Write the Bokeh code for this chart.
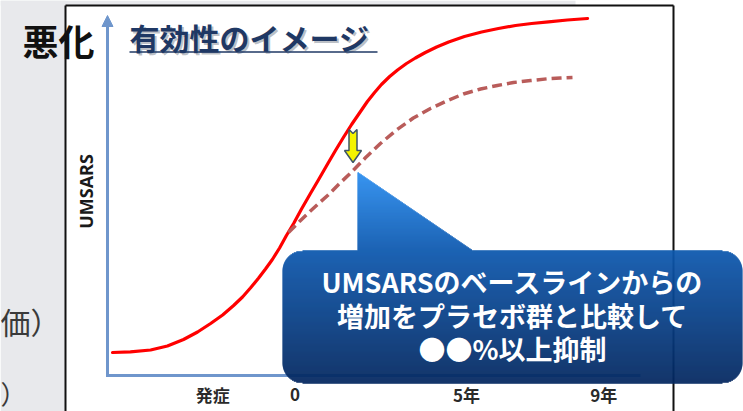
import numpy as np
from bokeh.plotting import figure
from bokeh.models import Range1d
from bokeh.embed import file_html
from bokeh.resources import INLINE
from bokeh.core.properties import value

# ---------------- data ----------------
tick_years = [-2.4, 0, 5, 9]
tick_labels = ["発症", "0", "5年", "9年"]

placebo_t = [-5.32, -4.80, -4.21, -3.72, -3.25, -2.84, -2.46, -2.11, -1.79, -1.53,
             -1.30, -1.06, -0.86, -0.66, -0.45, -0.25, -0.04, 0.19, 0.45, 0.69,
             0.95, 1.18, 1.41, 1.65, 1.91, 2.11, 2.32, 2.52, 2.76, 2.99,
             3.25, 3.51, 3.80, 4.13, 4.48, 4.94, 5.44, 5.93, 6.43, 6.90,
             7.39, 7.94, 8.53]
placebo_umsars = [6.42, 6.62, 7.12, 8.24, 10.06, 12.15, 14.53, 16.90, 19.55, 21.93,
                  24.44, 27.23, 29.75, 32.40, 35.61, 39.11, 42.46, 46.51, 50.84, 54.75,
                  59.08, 62.85, 66.48, 70.11, 73.74, 76.54, 79.05, 81.28, 83.52, 85.34,
                  87.15, 88.69, 90.22, 91.76, 93.16, 94.69, 95.95, 96.93, 97.77, 98.32,
                  98.80, 99.30, 99.72]

drug_t = [-0.19, 0.13, 0.45, 0.69, 0.95, 1.27, 1.62, 2.06, 2.49, 2.96,
          3.45, 3.95, 4.45, 4.91, 5.41, 5.90, 6.37, 6.87, 7.36, 7.74, 8.09]
drug_umsars = [39.94, 43.02, 45.95, 48.04, 50.28, 53.35, 56.56, 60.89, 64.80, 68.58,
               71.93, 74.58, 76.82, 78.63, 80.03, 81.01, 81.84, 82.40, 82.88, 83.10, 83.24]

title_text = "有効性のイメージ"
worse_text = "悪化"
ylabel_text = "UMSARS"
callout_lines = ["UMSARSのベースラインからの", "増加をプラセボ群と比較して", "●●%以上抑制"]

# ---------------- layout ----------------
W, H = 743, 411
X0, KX = 294.5, 34.3     # pixel of year 0, pixels per year
Y0, KY = 375.0, 3.58     # pixel of score 0, pixels per unit

JP = value("Noto Sans CJK JP")

p = figure(width=W, height=H, output_backend="svg", toolbar_location=None,
           x_range=Range1d(-X0 / KX, (W - X0) / KX),
           y_range=Range1d((Y0 - H) / KY, Y0 / KY),
           x_axis_type=None, y_axis_type=None, min_border=0)
p.outline_line_color = None
p.grid.visible = False
p.background_fill_color = "white"
p.border_fill_color = "white"
p.extra_x_ranges = {"px": Range1d(0, W)}
p.extra_y_ranges = {"px": Range1d(H, 0)}
PX = dict(x_range_name="px", y_range_name="px")

GRAY = "#e8e9ec"
# slide background pieces
p.quad(left=[0, 0], right=[65, 575], top=[0, 0], bottom=[H, 5],
       fill_color=GRAY, line_color=None, **PX)

# partial texts on the left
p.text(x=[0], y=[320], text=["価）"], text_align="left", text_baseline="middle",
       text_font=JP, text_font_size="30px", text_color="#3a3a3a", **PX)
p.text(x=[0], y=[392], text=["）"], text_align="left", text_baseline="middle",
       text_font=JP, text_font_size="26px", text_color="#3a3a3a", **PX)

# black box
p.multi_line(xs=[[65, 65], [65, 673], [673, 673]], ys=[[H, 5], [5, 5], [5, H]],
             line_color="#111111", line_width=2, **PX)

# blue axes
AX = "#6f96cc"
p.line(x=[107, 107], y=[375, 24], line_color=AX, line_width=3, **PX)
p.line(x=[105.5, 640], y=[375, 375], line_color=AX, line_width=3, **PX)
p.patch(x=[101.5, 112.5, 107], y=[26, 26, 15], fill_color=AX, line_color=AX, **PX)

# curves (data coordinates)
p.line(placebo_t, placebo_umsars, line_color="#ff0000", line_width=3.2,
       line_join="round", line_cap="round")
p.line(drug_t, drug_umsars, line_color="#b95c5a", line_width=3.5, line_dash="10 5")

# yellow arrow
cx = 352.5
p.patch(x=[cx - 4, cx, cx + 4, cx + 4, cx + 8.5, cx, cx - 8.5, cx - 4],
        y=[129, 133, 129, 150, 150, 162, 150, 150],
        fill_color="#f4f400", line_color="#3d5566", line_width=1.5, **PX)

# callout with vertical gradient (horizontal slices)
ys = np.arange(171, 383, 1.0)
lefts, rights, cols = [], [], []
stops_y = [171, 250, 382]
stops_c = [(43, 142, 240), (13, 88, 174), (4, 40, 96)]
r = 20.0
for yv in ys:
    if yv < 250:
        L = 357.0
        R = 357.0 + (yv - 171) / (250 - 171) * (473 - 357)
    else:
        d = min(yv - 250, 382 - yv)
        off = r - np.sqrt(max(r * r - (r - d) ** 2, 0)) if d < r else 0.0
        L = 282 + off
        R = 742 - off
    c = [int(round(np.interp(yv, stops_y, [s[k] for s in stops_c]))) for k in range(3)]
    lefts.append(L)
    rights.append(R)
    cols.append("#%02x%02x%02x" % tuple(c))
p.quad(left=lefts, right=rights, top=list(ys - 0.2), bottom=list(ys + 1.3),
       fill_color=cols, line_color=None, **PX)

for txt, yc in zip(callout_lines, [281, 315, 348]):
    p.text(x=[512], y=[yc], text=[txt], text_align="center", text_baseline="middle",
           text_font=JP, text_font_size="27px", text_font_style="bold",
           text_color="white", **PX)

# title with shadow + underline
p.text(x=[131], y=[38], text=[title_text], text_align="left", text_baseline="middle",
       text_font=JP, text_font_size="30px", text_font_style="bold",
       text_color="#8f96a0", text_alpha=0.6, **PX)
p.text(x=[129], y=[36], text=[title_text], text_align="left", text_baseline="middle",
       text_font=JP, text_font_size="30px", text_font_style="bold",
       text_color="#1f3864", **PX)
p.line(x=[129, 377], y=[51.5, 51.5], line_color="#1f3864", line_width=1.6, **PX)

# 悪化
p.text(x=[22], y=[39], text=[worse_text], text_align="left", text_baseline="middle",
       text_font=JP, text_font_size="36px", text_font_style="bold",
       text_color="#111111", **PX)

# y label
p.text(x=[85], y=[191], text=[ylabel_text], angle=np.pi / 2, text_align="center",
       text_baseline="middle", text_font=value("Open Sans"), text_font_size="18px",
       text_font_style="bold", text_color="#1a1a1a", **PX)

# x tick labels at data positions
p.text(x=tick_years, y=[394] * len(tick_years), text=tick_labels, text_align="center",
       text_baseline="middle", text_font=JP, text_font_size="17px",
       text_font_style="bold", text_color="#2a2a2a", y_range_name="px")

open("out.html", "w").write(file_html(p, INLINE))
